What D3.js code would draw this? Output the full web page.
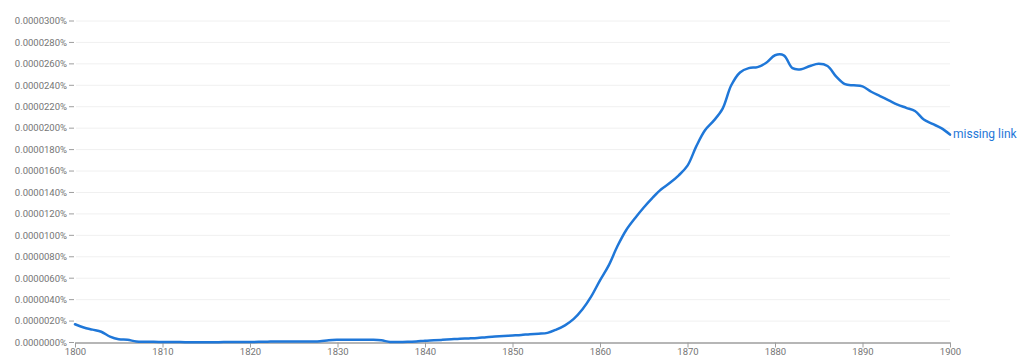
<!DOCTYPE html>
<html>
<head>
<meta charset="utf-8">
<script src="https://cdn.jsdelivr.net/npm/d3@7"></script>
<style>
  html, body { margin: 0; padding: 0; background: #fff; }
  svg { display: block; font-family: Roboto, "Noto Sans", sans-serif; }
</style>
</head>
<body>
<svg id="chart" width="1023" height="364"></svg>
<script>
// "missing link" frequency, in units of 1e-6 percent
var years = d3.range(1800, 1901);
var values = [
  1.7, 1.4, 1.2, 1.0, 0.55, 0.3, 0.25, 0.1, 0.07, 0.06,          // 1800-1809
  0.05, 0.05, 0.04, 0.03, 0.03, 0.03, 0.03, 0.04, 0.05, 0.05,    // 1810-1819
  0.05, 0.06, 0.08, 0.1, 0.1, 0.1, 0.1, 0.1, 0.12, 0.22,         // 1820-1829
  0.25, 0.25, 0.26, 0.26, 0.25, 0.2, 0.05, 0.04, 0.06, 0.1,      // 1830-1839
  0.16, 0.2, 0.25, 0.3, 0.35, 0.38, 0.42, 0.5, 0.55, 0.6,        // 1840-1849
  0.65, 0.7, 0.78, 0.82, 0.9, 1.2, 1.6, 2.2, 3.1, 4.3,           // 1850-1859
  5.8, 7.2, 9.0, 10.5, 11.6, 12.6, 13.5, 14.3, 14.9, 15.6,       // 1860-1869
  16.5, 18.3, 19.8, 20.7, 21.8, 24.0, 25.2, 25.6, 25.7, 26.1,    // 1870-1879
  26.8, 26.8, 25.6, 25.5, 25.8, 26.0, 25.8, 24.8, 24.1, 24.0,    // 1880-1889
  23.9, 23.4, 23.0, 22.6, 22.2, 21.9, 21.6, 20.8, 20.4, 20.0,    // 1890-1899
  19.4                                                            // 1900
];
var seriesName = "missing link";
var yTicks = d3.range(0, 31, 2);
var xTicks = d3.range(1800, 1901, 10);

var LINE = "#1f77d8", LABEL = "#757575", GRID = "#f0f0f0", AXIS = "#9e9e9e";

var svg = d3.select("#chart");
var x = d3.scaleLinear().domain([1800, 1900]).range([75, 950]);
var y = d3.scaleLinear().domain([0, 30]).range([342.5, 21]);

var fmt = function (v) { return (v * 1e-6).toFixed(7) + "%"; };

// gridlines + y labels
var yg = svg.append("g");
yTicks.forEach(function (t) {
  if (t > 0) {
    yg.append("line").attr("x1", 76).attr("x2", 950).attr("y1", y(t)).attr("y2", y(t))
      .attr("stroke", GRID).attr("stroke-width", 1);
  }
  yg.append("line").attr("x1", 69).attr("x2", 74).attr("y1", y(t)).attr("y2", y(t))
    .attr("stroke", AXIS).attr("stroke-width", 1);
  yg.append("text").attr("x", 67).attr("y", y(t)).attr("dy", "0.35em").attr("text-anchor", "end")
    .attr("font-size", 9.5).attr("fill", LABEL).text(fmt(t));
});

// x axis
var xAxis = d3.axisBottom(x).tickValues(xTicks).tickFormat(d3.format("d")).tickSize(5).tickSizeOuter(0);
var xg = svg.append("g").attr("transform", "translate(0," + y(0) + ")").call(xAxis);
xg.select(".domain").attr("stroke", AXIS).attr("stroke-width", 1.5);
xg.selectAll(".tick line").attr("stroke", AXIS);
xg.selectAll(".tick text").attr("font-family", "Roboto, sans-serif").attr("font-size", 9.5)
  .attr("fill", LABEL).attr("y", 6);

// the series
var line = d3.line().x(function (d, i) { return x(years[i]); }).y(function (d) { return y(d); })
  .curve(d3.curveCatmullRom.alpha(0.5));
svg.append("path").attr("d", line(values)).attr("fill", "none").attr("stroke", LINE)
  .attr("stroke-width", 2.5).attr("stroke-linejoin", "round").attr("stroke-linecap", "round");

svg.append("text").attr("x", x(1900) + 3).attr("y", y(values[values.length - 1]) - 1)
  .attr("dy", "0.35em").attr("font-size", 12).attr("fill", LINE).text(seriesName);
</script>
</body>
</html>
